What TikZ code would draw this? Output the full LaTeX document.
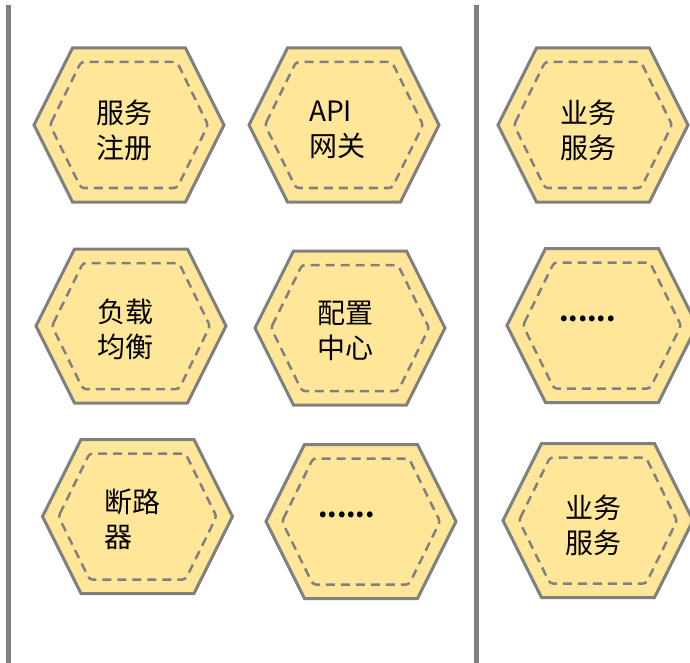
\documentclass[tikz,border=0pt]{standalone}
\usepackage{fontspec}
\setmainfont{Noto Sans CJK SC}
\definecolor{hexfill}{HTML}{FFE699}
\definecolor{hexline}{HTML}{808080}
\tikzset{
  hexouter/.style={draw=hexline, fill=hexfill, line width=3pt, line join=miter},
  hexinner/.style={draw=hexline, line width=2.5pt, dash pattern=on 9pt off 6pt, rounded corners=3pt},
  vline/.style={draw=hexline, line width=5pt},
  lbl/.style={font=\fontsize{28}{35}\selectfont, text=black, inner sep=0pt},
  dots/.style={font=\fontsize{27}{35}\selectfont, text=black, inner sep=0pt, anchor=base},
}
\newcommand\hexcell[3]{%
  \begin{scope}[shift={(#2,#3)}]
    \draw[hexouter] (-95,0) -- (-56.5,-77) -- (56.5,-77) -- (95,0) -- (56.5,77) -- (-56.5,77) -- cycle;
    \draw[hexinner] (-79,0) -- (-48,-63) -- (48,-63) -- (79,0) -- (48,63) -- (-48,63) -- cycle;
    \coordinate (#1) at (0,0);
  \end{scope}}
\begin{document}
\begin{tikzpicture}[x=1pt,y=-1pt]
  \useasboundingbox (0,0) rectangle (690,663);
  \clip (0,0) rectangle (690,663);
  \coordinate (l1top) at (8,5);
  \coordinate (l1bot) at (8,670);
  \coordinate (l2top) at (476.5,5);
  \coordinate (l2bot) at (476.5,670);
  \draw[vline] (l1top) -- (l1bot);
  \draw[vline] (l2top) -- (l2bot);

  \hexcell{h1}{129}{125}
  \hexcell{h2}{344}{125}
  \hexcell{h3}{593}{125}
  \hexcell{h4}{131}{326}
  \hexcell{h5}{350}{328}
  \hexcell{h6}{602}{325.5}
  \hexcell{h7}{137.5}{516.5}
  \hexcell{h8}{361}{521.5}
  \hexcell{h9}{598}{520.5}

  \node[lbl, align=center] (t1) at (124.5,130) {服务\\注册};
  \node[lbl, align=left, anchor=west] (t2) at (309,130) {API\\网关};
  \node[lbl, align=center] (t3) at (588.5,130) {业务\\服务};
  \node[lbl, align=center] (t4) at (125.5,329.5) {负载\\均衡};
  \node[lbl, align=center] (t5) at (345.5,330.5) {配置\\中心};
  \node[dots] (t6) at (587.5,321) {\textbf{......}};
  \node[lbl, align=left, anchor=west] (t7) at (104,519.5) {断路\\器};
  \node[dots] (t8) at (346.5,517) {\textbf{......}};
  \node[lbl, align=center] (t9) at (593.5,525.5) {业务\\服务};
\end{tikzpicture}
\end{document}
